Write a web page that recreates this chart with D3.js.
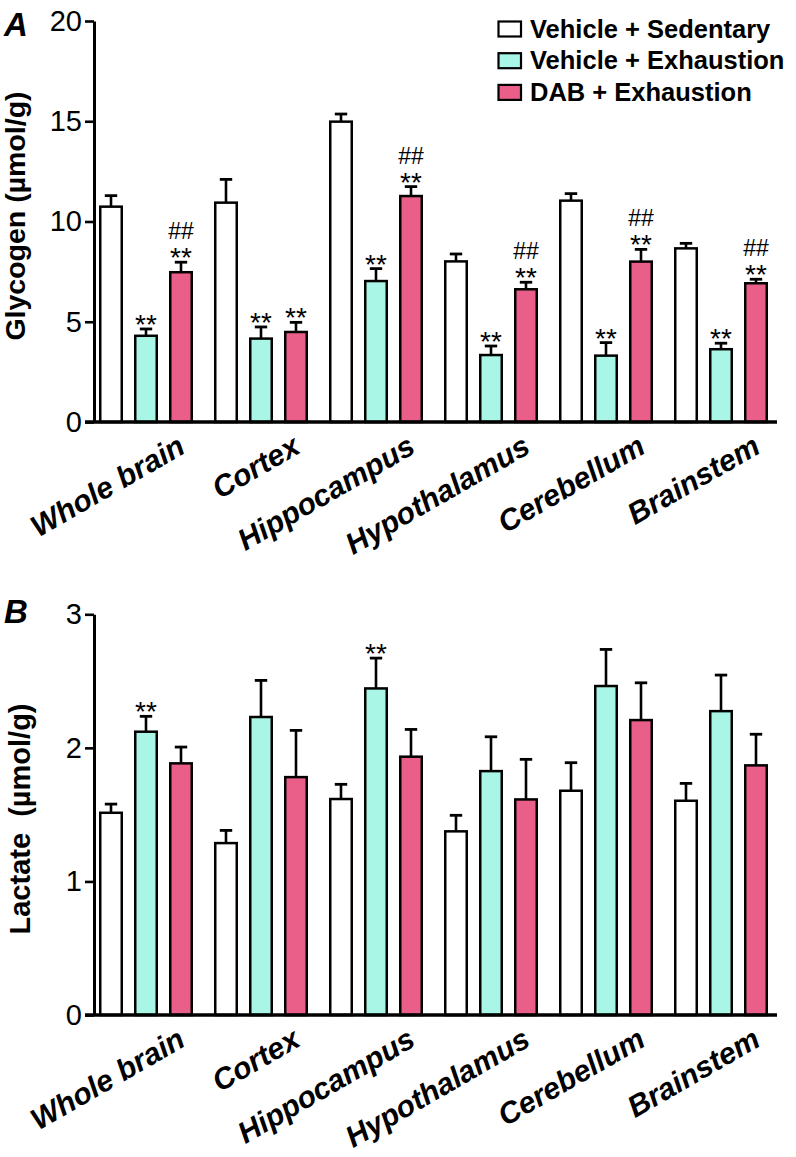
<!DOCTYPE html>
<html>
<head>
<meta charset="utf-8">
<script src="https://cdn.jsdelivr.net/npm/d3@7"></script>
<style>
  html, body { margin: 0; padding: 0; background: #fff; }
  svg text { font-family: "Liberation Sans", Arial, Helvetica, sans-serif; fill: #000; }
</style>
</head>
<body>
<svg id="chart" width="796" height="1157"></svg>
<script>
// ---------- data ----------
const categories = ["Whole brain", "Cortex", "Hippocampus", "Hypothalamus", "Cerebellum", "Brainstem"];
const series = ["Vehicle + Sedentary", "Vehicle + Exhaustion", "DAB + Exhaustion"];
const seriesColors = ["#ffffff", "#a9f6e6", "#ea5f89"];

// Panel A: Glycogen (µmol/g)
const glySed    = [10.74, 10.94, 14.98, 8.01, 11.04, 8.66];
const glySedErr = [0.55, 1.16, 0.38, 0.37, 0.35, 0.25];
const glyExh    = [4.30, 4.16, 7.03, 3.34, 3.31, 3.63];
const glyExhErr = [0.34, 0.58, 0.62, 0.45, 0.65, 0.30];
const glyDab    = [7.47, 4.49, 11.27, 6.62, 8.00, 6.92];
const glyDabErr = [0.50, 0.48, 0.47, 0.35, 0.61, 0.20];
const glyExhStar = ["**", "**", "**", "**", "**", "**"];
const glyDabStar = ["**", "**", "**", "**", "**", "**"];
const glyDabHash = ["##", "", "##", "##", "##", "##"];
const glyTicks = [0, 5, 10, 15, 20];

// Panel B: Lactate (µmol/g)
const lacSed    = [1.514, 1.287, 1.617, 1.375, 1.679, 1.604];
const lacSedErr = [0.065, 0.095, 0.110, 0.120, 0.210, 0.130];
const lacExh    = [2.121, 2.231, 2.445, 1.826, 2.463, 2.275];
const lacExhErr = [0.115, 0.274, 0.227, 0.257, 0.274, 0.270];
const lacDab    = [1.884, 1.781, 1.934, 1.614, 2.208, 1.869];
const lacDabErr = [0.122, 0.350, 0.204, 0.300, 0.279, 0.233];
const lacExhStar = ["**", "", "**", "", "", ""];
const lacTicks = [0, 1, 2, 3];

// ---------- layout ----------
const svg = d3.select("#chart");
const FONT = '"Liberation Sans", Arial, Helvetica, sans-serif';

const x0 = d3.scaleBand().domain(categories)
  .range([93.25, 773.75]).paddingInner(21 / 115).paddingOuter(0.05);
const x1 = d3.scaleBand().domain(series)
  .range([0, x0.bandwidth()]).paddingInner(11 / 35).paddingOuter(0);

function panel(opts) {
  const g = svg.append("g");
  const y = d3.scaleLinear().domain(opts.domain).range(opts.range);
  const yBottom = opts.range[0];

  const rows = [];
  categories.forEach((c, i) => {
    opts.values.forEach((vals, s) => {
      rows.push({ cat: c, s: s, name: series[s], v: vals[i], e: opts.errs[s][i],
                  star: (opts.stars[s] || [])[i] || "", hash: (opts.hashes[s] || [])[i] || "" });
    });
  });

  // error bars
  const eb = g.append("g");
  rows.forEach(d => {
    const cx = x0(d.cat) + x1(d.name) + x1.bandwidth() / 2;
    eb.append("line").attr("x1", cx).attr("x2", cx)
      .attr("y1", y(d.v)).attr("y2", y(d.v + d.e))
      .attr("stroke", "#000").attr("stroke-width", 2.6);
    eb.append("line").attr("x1", cx - 6.2).attr("x2", cx + 6.2)
      .attr("y1", y(d.v + d.e)).attr("y2", y(d.v + d.e))
      .attr("stroke", "#000").attr("stroke-width", 2.8);
  });

  // bars
  g.append("g").selectAll("rect").data(rows).join("rect")
    .attr("x", d => x0(d.cat) + x1(d.name) + 1.25)
    .attr("width", x1.bandwidth() - 2.5)
    .attr("y", d => y(d.v))
    .attr("height", d => yBottom - y(d.v))
    .attr("fill", d => seriesColors[d.s])
    .attr("stroke", "#000").attr("stroke-width", 2.5);

  // significance marks
  rows.forEach(d => {
    const cx = x0(d.cat) + x1(d.name) + x1.bandwidth() / 2;
    const capY = y(d.v + d.e);
    if (d.star) {
      g.append("text").attr("x", cx).attr("y", capY + 5)
        .attr("text-anchor", "middle").style("font-size", "28px").text(d.star);
    }
    if (d.hash) {
      g.append("text").attr("x", cx).attr("y", capY - 23)
        .attr("text-anchor", "middle").style("font-size", "23px")
        .text(d.hash);
    }
  });

  // y axis
  const axis = d3.axisLeft(y).tickValues(opts.ticks).tickFormat(d3.format("d"))
    .tickSize(9).tickSizeOuter(0).tickPadding(3);
  const ag = g.append("g").attr("transform", "translate(94,0)").call(axis);
  ag.select(".domain").attr("stroke", "#000").attr("stroke-width", 3);
  ag.selectAll(".tick line").attr("stroke", "#000").attr("stroke-width", 2.6);
  ag.selectAll(".tick text").attr("font-family", FONT).attr("font-size", 29).style("font-size", "29px").attr("fill", "#000");

  // x axis baseline
  g.append("line").attr("x1", 85).attr("x2", 777)
    .attr("y1", yBottom).attr("y2", yBottom)
    .attr("stroke", "#000").attr("stroke-width", 3.3);

  // category labels
  g.append("g").selectAll("text").data(categories).join("text")
    .attr("text-anchor", "end")
    .attr("transform", c => `translate(${x0(c) + x0.bandwidth() / 2 + 41},${yBottom + 30}) rotate(-30)`)
    .style("font-size", "30px").style("font-weight", "bold").style("font-style", "italic")
    .text(c => c);

  // y title
  g.append("text")
    .attr("transform", `translate(${opts.titleX},${opts.titleY}) rotate(-90)`)
    .attr("text-anchor", "middle")
    .style("font-size", opts.titleSize).style("font-weight", "bold").style("white-space", "pre")
    .text(opts.title);

  // panel letter
  g.append("text").attr("x", 4).attr("y", opts.letterY)
    .style("font-size", "33px").style("font-weight", "bold").style("font-style", "italic")
    .text(opts.letter);
}

panel({
  domain: [0, 20], range: [422, 21], ticks: glyTicks,
  values: [glySed, glyExh, glyDab], errs: [glySedErr, glyExhErr, glyDabErr],
  stars: [null, glyExhStar, glyDabStar], hashes: [null, null, glyDabHash],
  title: "Glycogen (µmol/g)", titleX: 25, titleY: 216, titleSize: "28.5px",
  letter: "A", letterY: 36
});

panel({
  domain: [0, 3], range: [1015, 614.3], ticks: lacTicks,
  values: [lacSed, lacExh, lacDab], errs: [lacSedErr, lacExhErr, lacDabErr],
  stars: [null, lacExhStar, null], hashes: [null, null, null],
  title: "Lactate  (µmol/g)", titleX: 30, titleY: 819, titleSize: "29px",
  letter: "B", letterY: 623
});

// legend
const leg = svg.append("g");
series.forEach((s, i) => {
  const by = 37.5 + i * 31.7;
  leg.append("rect").attr("x", 498.5).attr("y", by - 16).attr("width", 22.5).attr("height", 15)
    .attr("fill", seriesColors[i]).attr("stroke", "#000").attr("stroke-width", 2.2);
  leg.append("text").attr("x", 530).attr("y", by)
    .style("font-size", "25.5px").style("font-weight", "bold").text(s);
});
</script>
</body>
</html>
